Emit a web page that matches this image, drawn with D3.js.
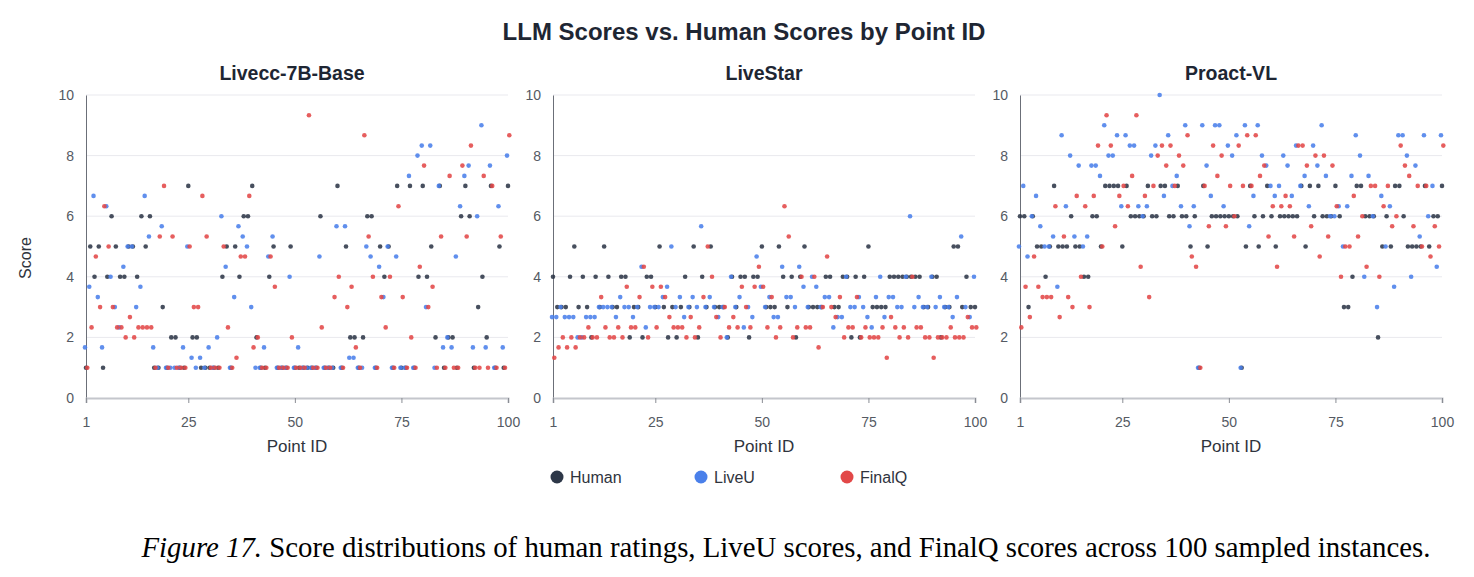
<!DOCTYPE html>
<html>
<head>
<meta charset="utf-8">
<script src="https://cdn.jsdelivr.net/npm/d3@7/dist/d3.min.js"></script>
<style>
  body { margin: 0; background: #fff; }
  text { font-family: "Liberation Sans", Arial, sans-serif; }
</style>
</head>
<body>
<div id="chart"></div>
<script>
// point ids are just the category axis 1..100
const pointIds = d3.range(1, 101);
const seriesNames = ["Human", "LiveU", "FinalQ"];
const panelTitles = ["Livecc-7B-Base", "LiveStar", "Proact-VL"];
const yTickValues = [0, 2, 4, 6, 8, 10];
const xTickValues = [1, 25, 50, 75, 100];

// Livecc-7B-Base
const liveccHuman = [1,5,4,5,1,4,6,5,4,4, 5,5,4,6,5,6,1,1,3,1, 2,2,1,1,7,2,2,1,1,1,
  1,1,4,5,1,5,4,6,6,7, 2,1,1,4,5,1,1,1,5,1, 1,1,1,1,1,6,1,1,1,7, 1,5,2,2,1,2,6,6,1,5,
  4,5,1,7,1,1,7,1,4,7, 4,5,2,7,1,2,2,1,6,7, 6,1,3,4,2,7,1,5,1,7];
const liveccLiveU = [1.67,3.67,6.67,3.33,1.67,6.33,4,3,2.33,4.33, 5,5,3,3.67,6.67,5.33,1.67,1,5.67,1,
  1,1,1,1.67,5,1.33,1,1.33,1,1.67, 1,2,6,4.33,1,3.33,5.67,5.33,5,3, 1,1,1.67,4.67,5.33,1,1,1,4,1,
  1.67,1,1,1,1,4.67,1,1,1,5.67, 1,5.67,1.33,1.33,1,1,5,4.67,1,4.33, 3.33,5,1,4.67,1,1,7.33,1,8,8.33,
  3,8.33,1,7,1.67,2,1.67,4.67,6.33,7.33, 7.67,1.67,6,9,1.67,7.67,1,6.33,1.67,8];
const liveccFinalQ = [1,2.33,4.67,3,6.33,5,3,2.33,2.33,2, 2.67,2,2.33,2.33,2.33,2.33,1,5.33,7,1,
  5.33,1,1,1,5,3,3,6.67,5.33,1, 1,1,5,2.33,1,1.33,4.67,4.67,6.67,1.67, 2,1,1,4.67,3.67,1,1,1,2,1,
  1,1,9.33,1,1,2.33,1,1,3.33,4, 1,3,3.67,1.67,1,8.67,5.33,4,1,3.33, 2.33,4,1,6.33,3.33,1,2,1,4.33,7.67,
  3,3.67,1,5.33,1,7.33,1,1,7.67,5.33, 8.33,1,1,7.33,1,7,1,5.33,1,8.67];

// LiveStar
const liveStarHuman = [4,3,3,3,4,5,3,4,3,2, 4,3,5,4,3,3,4,4,2,3, 3,2,4,4,3,5,3,2,3,2,
  3,4,3,5,2,4,3,5,3,3, 3,2,4,3,4,4,2,4,4,5, 3,3,3,5,4,3,4,2,4,5, 3,3,3,3,4,4,3,3,4,4,
  2,4,2,4,5,3,3,3,3,4, 4,4,4,4,4,4,4,3,3,4, 4,2,3,3,5,5,3,4,3,3];
const liveStarLiveU = [2.67,2.67,3,2.67,2.67,2.67,2,2,2.67,2.67, 2.67,3,3,3,3,2.67,3.33,3,3,2.67,
  3,4.33,2.33,3,3,3,3.33,3.67,5,3, 3.33,2.67,3,3.33,3,5.67,3,3.33,3,2.67, 3,2,4,3,3.33,2.33,3,2.67,4.67,3.67,
  3,3.33,2.67,2.67,4.33,3.33,3.33,3,4.33,3.67, 3,4,3.67,3,3.33,3.33,2.33,2.67,2.67,4,
  3,3,3.33,3,2.67,2.33,3.33,4,2.67,3.33, 3.33,3,3,4,6,3,3.33,3,3,4, 3,3.33,3,3,2.67,3.33,5.33,3,2.67,4];
const liveStarFinalQ = [1.33,1.67,2,1.67,2,1.67,2,2,2.33,2, 2,3.33,2.33,2,2,2.33,2,3.67,2.33,2.33,
  3.33,4.33,2,3.67,2.33,3.67,3.33,2.67,2.33,2.33, 2.33,2,2.67,2,2.33,3.33,5,4,2.67,2,
  3,2.33,2.67,2.33,3.67,3,2.33,3.67,4.33,3.67, 2.33,3.33,2,2.33,6.33,5.33,2,2.33,4,2.33,
  2.33,4,1.67,3,4.67,3,2.67,3.33,2,2.33, 2.33,3.33,2,2.33,2,2,2,2.33,1.33,2.67,
  2.33,2,2.33,2,4,2.33,2.33,2,2,1.33, 2,2,2,2.33,2,2,2,2.67,2.33,2.33];

// Proact-VL
const proactHuman = [6,6,3,6,5,5,4,5,7,5, 5,5,6,5,5,4,4,6,6,5, 7,7,7,7,5,7,6,6,6,6,
  7,6,6,7,7,6,6,7,6,6, 5,6,1,7,5,6,6,6,6,6, 6,6,1,5,7,6,5,6,7,6, 5,6,6,6,6,6,7,5,7,6,
  7,6,6,6,7,6,3,3,4,7, 7,6,6,6,2,5,6,5,7,7, 6,5,5,5,5,7,5,6,6,7];
const proactLiveU = [5,7,4.67,6,6.67,5.67,5,5,5.33,3.67, 8.67,6.33,8,5.33,7.67,5,5.33,7.67,7.67,7.33,
  9,8,8,8.67,6.33,8.67,8.33,8.33,6.33,6, 6.33,8,8.33,10,6.67,8.67,7,7.33,6.33,9,
  5.67,6.33,1,9,7.67,6.67,9,9,6.33,8.33, 8,8.67,1,9,5.67,6.67,9,8,7.67,7,
  6.67,7,8,7.67,6.67,8.33,7,7.33,6.33,8.33, 7.67,9,7.33,6,6,6.33,5,6.33,7.33,8.67,
  8,4,7.33,6,3,6.67,5,6.33,3.67,8.67, 8.67,8,4,7.67,5.33,8.67,6,7,4.33,8.67];
const proactFinalQ = [2.33,3.67,2.67,4.67,3.67,3.33,3.33,3.33,6.33,2.67, 5.33,3.33,3,6.67,4,6.33,3,6.67,8.33,5,
  9.33,8.33,5.67,6.67,7,6.33,7.33,9.33,4.33,6.67, 3.33,7,8,8.33,7.67,8.33,7,8,7.67,8.67,
  4.67,4.33,1,7,5.67,8.33,7.33,8,5.67,7, 6,8.33,7,8.67,7,8.67,7.33,7.67,5.33,6.33,
  4.33,6.33,6.67,6.33,5.33,8.33,8.33,7.67,5.67,8, 4.67,8,5.33,7.67,6.33,4,5,5,6.67,5.33,
  6,4.33,7,7,4,6.33,7,5.67,6,8.33, 7.67,7.33,5.67,7,5,7,4.67,5.67,5,8.33];

const panelData = [
  [liveccHuman, liveccLiveU, liveccFinalQ],
  [liveStarHuman, liveStarLiveU, liveStarFinalQ],
  [proactHuman, proactLiveU, proactFinalQ]
];

const colors = ["#2d3748", "#4a80ea", "#e24848"];
const dodge = [0, -1, 1.3];
const panelLeft = [86, 553, 1020];
const panelWidth = 422;
const plotTop = 95, plotBottom = 398;

const svg = d3.select("#chart").append("svg")
  .attr("width", 1474)
  .attr("height", 577);

svg.append("rect").attr("width", 1474).attr("height", 577).attr("fill", "#fff");

svg.append("text")
  .attr("x", 744).attr("y", 40)
  .attr("text-anchor", "middle")
  .attr("font-size", 24).attr("font-weight", "bold")
  .attr("fill", "#1e2633")
  .text("LLM Scores vs. Human Scores by Point ID");

panelData.forEach((series, i) => {
  const x = d3.scaleLinear().domain([1, 100]).range([panelLeft[i], panelLeft[i] + panelWidth]);
  const y = d3.scaleLinear().domain([0, 10]).range([plotBottom, plotTop]);
  const g = svg.append("g");

  // grid
  g.selectAll(".grid")
    .data(yTickValues.filter((d) => d > 0))
    .enter().append("line")
    .attr("x1", x(1)).attr("x2", x(100))
    .attr("y1", (d) => y(d)).attr("y2", (d) => y(d))
    .attr("stroke", "#e9e9ee").attr("stroke-width", 1);

  // y axis
  const yAxis = g.append("g")
    .attr("transform", `translate(${x(1)},0)`)
    .call(d3.axisLeft(y).tickValues(yTickValues).tickSize(0).tickPadding(12));
  yAxis.select(".domain").attr("stroke", "#6b6f78").attr("stroke-width", 1);
  yAxis.selectAll("text").attr("font-size", 14).attr("fill", "#555a63")
    .attr("font-family", "Liberation Sans, Arial, sans-serif");

  // x axis
  const xAxis = g.append("g")
    .attr("transform", `translate(0,${plotBottom})`)
    .call(d3.axisBottom(x).tickValues(xTickValues).tickSize(5).tickSizeOuter(5).tickPadding(14));
  xAxis.select(".domain").attr("stroke", "#c4c6cc").attr("stroke-width", 2);
  xAxis.selectAll(".tick line").attr("stroke", "#8a8d94");
  xAxis.selectAll("text").attr("font-size", 14).attr("fill", "#555a63")
    .attr("font-family", "Liberation Sans, Arial, sans-serif");

  // panel title
  const cx = (x(1) + x(100)) / 2 + (i === 0 ? -5 : 0);
  g.append("text")
    .attr("x", cx).attr("y", 80)
    .attr("text-anchor", "middle")
    .attr("font-size", 19.5).attr("font-weight", "bold")
    .attr("fill", "#1e2633")
    .text(panelTitles[i]);

  // x label
  g.append("text")
    .attr("x", (x(1) + x(100)) / 2).attr("y", 452)
    .attr("text-anchor", "middle")
    .attr("font-size", 17).attr("fill", "#2f343d")
    .text("Point ID");

  // points
  series.forEach((values, s) => {
    g.append("g").selectAll("circle")
      .data(values)
      .enter().append("circle")
      .attr("cx", (d, k) => x(pointIds[k]) + dodge[s])
      .attr("cy", (d) => y(d))
      .attr("r", 2.3)
      .attr("fill", colors[s])
      .attr("fill-opacity", 0.88);
  });
});

// y label
svg.append("text")
  .attr("transform", "translate(31,258) rotate(-90)")
  .attr("text-anchor", "middle")
  .attr("font-size", 16).attr("fill", "#2f343d")
  .text("Score");

// legend
const legendX = [557, 701, 847];
const legend = svg.append("g");
seriesNames.forEach((name, s) => {
  legend.append("circle")
    .attr("cx", legendX[s]).attr("cy", 477).attr("r", 6.5)
    .attr("fill", colors[s]);
  legend.append("text")
    .attr("x", legendX[s] + 13).attr("y", 483)
    .attr("font-size", 16).attr("fill", "#2f343d")
    .text(name);
});

// caption
const caption = svg.append("text")
  .attr("x", 786).attr("y", 557)
  .attr("text-anchor", "middle")
  .attr("font-size", 28.8).attr("fill", "#000")
  .style("font-family", "'Liberation Serif', 'Times New Roman', serif");
caption.append("tspan").attr("font-style", "italic").text("Figure 17.");
caption.append("tspan").text(" Score distributions of human ratings, LiveU scores, and FinalQ scores across 100 sampled instances.");
</script>
</body>
</html>
